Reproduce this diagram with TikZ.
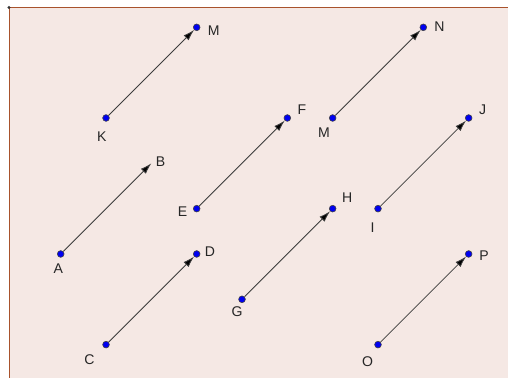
\documentclass[tikz,border=0pt]{standalone}
\usepackage{fontspec}
\setmainfont{Liberation Sans}
\usepackage{tikz}
\usetikzlibrary{arrows.meta}
\definecolor{sheet}{HTML}{F5E8E4}
\definecolor{frame}{HTML}{A8522C}
\definecolor{vec}{HTML}{3C3C3C}
\definecolor{ptblue}{HTML}{0000F0}

\begin{document}
\begin{tikzpicture}[x=1.1333cm,y=1.1333cm]
    \tikzset{point/.style = {shape=circle,fill=ptblue,draw=black!75,line width=0.4pt,inner sep=0pt,minimum size=4.8pt}}
    \tikzset{ptlabel/.style = {inner sep=0pt,text=black!85,font=\fontsize{10}{12}\selectfont}}
    \tikzset{edge/.style = {->,> = {Latex[length=8pt,width=5pt]},draw=vec,line width=0.6pt}}
    % sheet
    \useasboundingbox (-0.339,0.265) rectangle (10.868,8.603);
    \fill[white] (-0.339,0.265) rectangle (10.868,8.603);
    \fill[sheet] (-0.1405,0.265) rectangle (10.868,8.438);
    \draw[frame,line width=0.7pt] (-0.1405,0.265) -- (-0.1405,8.438) -- (10.868,8.438);
    \fill[black!80] (-0.1405,8.438) circle (1.1pt);
    % vertices
    \node[point] (K) at (2,6) {};
    \node[point] (M) at (4,8) {};
    \node[ptlabel] (lK) at (1.905,5.588) {K};
    \node[ptlabel] (lM) at (4.375,7.918) {M};
    \path[edge] (K) edge (M);
%%%%%%%%%%%%%%%%%
    \node[point] (A) at (1,3) {};
    \coordinate (B) at (3,5);
    \node[ptlabel] (lA) at (0.947,2.669) {A};
    \node[ptlabel] (lB) at (3.205,5.03) {B};
    \path[edge] (A) edge (B);
%%%%%%%%%%%%%%%%%
    \node[point] (C) at (2,1) {};
    \node[point] (D) at (4,3) {};
    \node[ptlabel] (lC) at (1.632,0.678) {C};
    \node[ptlabel] (lD) at (4.293,3.051) {D};
    \path[edge] (C) edge (D);
%%%%%%%%%%%%%%%%%
    \node[point] (E) at (4,4) {};
    \node[point] (F) at (6,6) {};
    \node[ptlabel] (lE) at (3.691,3.934) {E};
    \node[ptlabel] (lF) at (6.322,6.176) {F};
    \path[edge] (E) edge (F);
%%%%%%%%%%%%%%%%%
    \node[point] (G) at (5,2) {};
    \node[point] (H) at (7,4) {};
    \node[ptlabel] (lG) at (4.89,1.726) {G};
    \node[ptlabel] (lH) at (7.322,4.243) {H};
    \path[edge] (G) edge (H);
%%%%%%%%%%%%%%%%%
    \node[point] (M2) at (7,6) {};
    \node[point] (N) at (9,8) {};
    \node[ptlabel] (lM2) at (6.808,5.676) {M};
    \node[ptlabel] (lN) at (9.353,8.013) {N};
    \path[edge] (M2) edge (N);
%%%%%%%%%%%%%%%%%
    \node[point] (I) at (8,4) {};
    \node[point] (J) at (10,6) {};
    \node[ptlabel] (lI) at (7.883,3.59) {I};
    \node[ptlabel] (lJ) at (10.309,6.176) {J};
    \path[edge] (I) edge (J);
%%%%%%%%%%%%%%%%%
    \node[point] (O) at (8,1) {};
    \node[point] (P) at (10,3) {};
    \node[ptlabel] (lO) at (7.773,0.634) {O};
    \node[ptlabel] (lP) at (10.338,2.962) {P};
    \path[edge] (O) edge (P);

    \end{tikzpicture}
\end{document}
